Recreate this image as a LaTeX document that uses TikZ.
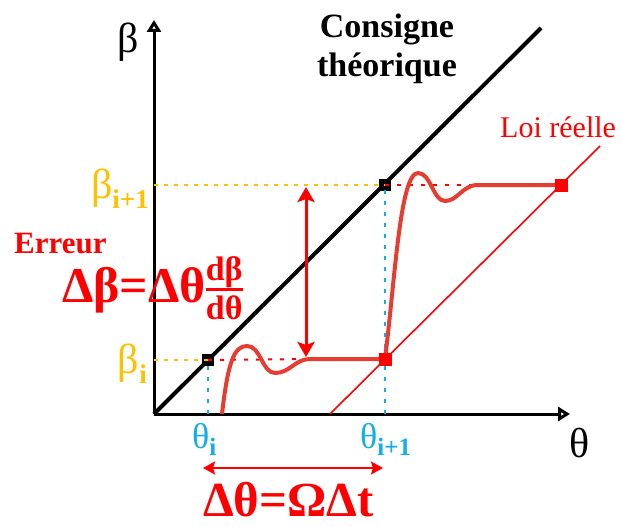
\documentclass[tikz,border=0pt]{standalone}
\usepackage{fontspec}
\setmainfont{Liberation Serif}
\usepackage{tikz}
\usetikzlibrary{arrows.meta, positioning, calc}
\definecolor{axisblack}{HTML}{000000}
\definecolor{betagold}{HTML}{FFC000}
\definecolor{thetablue}{HTML}{12AEEC}
\definecolor{errred}{HTML}{FF0000}
\definecolor{curvered}{HTML}{E63C32}
\newcommand{\fsz}[1]{\fontsize{#1}{#1}\selectfont}
\newcommand{\sbs}[3][10pt]{\raisebox{-#1}{\fsz{#2}\bfseries #3}}
\newcommand{\dfrac}[2]{\raisebox{4pt}{\fontsize{34}{26}\selectfont\bfseries
  \setlength{\arrayrulewidth}{2.5pt}\setlength{\tabcolsep}{0pt}%
  \begin{tabular}{c}#1\\\hline\rule{0pt}{29pt}#2\end{tabular}}}

\begin{document}
\begin{tikzpicture}[x=1pt, y=-1pt,
  axis/.style={line width=3pt, color=axisblack,
               -{Triangle[open, length=12pt, width=14pt]}},
  diag/.style={line width=4pt, color=axisblack},
  blkbox/.style={rectangle, fill=black, minimum size=12pt, inner sep=0pt},
  redbox/.style={rectangle, fill=errred, minimum size=13pt, inner sep=0pt},
  golddash/.style={line width=2pt, color=betagold, dash pattern=on 4pt off 6pt},
  reddash/.style={line width=2pt, color=errred, dash pattern=on 4pt off 8pt},
  bluedot/.style={line width=2.5pt, color=thetablue, dash pattern=on 4pt off 7pt},
  curve/.style={line width=4pt, color=curvered},
  reelle/.style={line width=1.6pt, color=errred},
  vgap/.style={line width=3pt, color=errred,
               {Stealth[length=15pt, width=17pt, inset=3pt]}-{Stealth[length=15pt, width=17pt, inset=3pt]}},
  hgap/.style={line width=2.6pt, color=errred,
               {Stealth[length=12pt, width=13pt, inset=2pt]}-{Stealth[length=12pt, width=13pt, inset=2pt]}},
  axlab/.style={inner sep=0pt, anchor=base west, font=\fsz{42}},
  betalab/.style={inner sep=0pt, anchor=base east, color=betagold, font=\fsz{42}},
  thetalab/.style={inner sep=0pt, anchor=base west, color=thetablue, font=\fsz{36}},
  redtxt/.style={inner sep=0pt, anchor=base west, color=errred},
]
\useasboundingbox (0,0) rectangle (622,527);

\coordinate (O) at (154,414);
\coordinate (ytop) at (154,20);
\coordinate (xend) at (570,414);
\coordinate (dtop) at (541,28);
\coordinate (lbot) at (330,414);
\coordinate (ltop) at (600,146);

\draw[axis] (O) -- (ytop);
\draw[axis] (O) -- (xend);
\draw[diag] (O) -- (dtop);
\draw[reelle] (lbot) -- (ltop);

\node[blkbox] (Pi) at (208,360) {};
\node[blkbox] (Pf) at (385,185) {};

\coordinate (plati) at (310,359);
\coordinate (platf) at (478,185);

\draw[golddash] (O |- Pi) -- (Pi.center);
\draw[golddash] (O |- Pf) -- (Pf.center);
\draw[reddash] (Pi.center) -- (plati);
\draw[reddash] (Pf.center) -- (platf);
\draw[bluedot] (O -| Pi) -- (Pi.center);
\draw[bluedot] (O -| Pf) -- (Pf.center);

\draw[curve] (222,414) .. controls (228,362) and (234,346) .. (247,346)
  .. controls (261,346) and (262,373) .. (275,373)
  .. controls (290,373) and (295,359) .. (plati) -- (385,359);
\draw[curve] (385,359) .. controls (395,280) and (400,173) .. (418,173)
  .. controls (431,173) and (433,201) .. (445,201)
  .. controls (458,201) and (462,185) .. (platf) -- (561,185);
\node[redbox] (Ri) at (385,359) {};
\node[redbox] (Rf) at (561,185) {};

\coordinate (vtop) at (306,187);
\coordinate (vbot) at (306,357);
\draw[vgap] (vtop) -- (vbot);
\coordinate (hl) at (203,468);
\coordinate (hr) at (383,468);
\draw[hgap] (hl) -- (hr);

\node[axlab] (blab) at (117,53) {β};
\node[axlab] (tlab) at (569,457) {θ};

\node[betalab] (bi1) at (149,198) {β\sbs{27}{i+1}};
\node[betalab] (bi) at (147,373) {β\sbs{27}{i}};
\node[thetalab] (ti) at (192,448) {θ\sbs[7pt]{25}{i}};
\node[thetalab] (ti1) at (360,448) {θ\sbs[7pt]{25}{i+1}};

\node[inner sep=0pt, align=center, font=\fsz{34}\bfseries, text depth=0pt]
  (cons) at (387,45) {Consigne\\[5pt]théorique};
\node[redtxt, font=\fsz{30}] (loi) at (500,138) {Loi réelle};
\node[redtxt, font=\fsz{31}\bfseries] (err) at (14,253) {Erreur};
\node[redtxt, font=\fsz{50}\bfseries] (dbeta) at (62,302)
  {Δβ=Δθ\dfrac{dβ}{dθ}};
\node[redtxt, font=\fsz{49}\bfseries] (dtheta) at (203,516) {Δθ=ΩΔt};
\end{tikzpicture}
\end{document}
